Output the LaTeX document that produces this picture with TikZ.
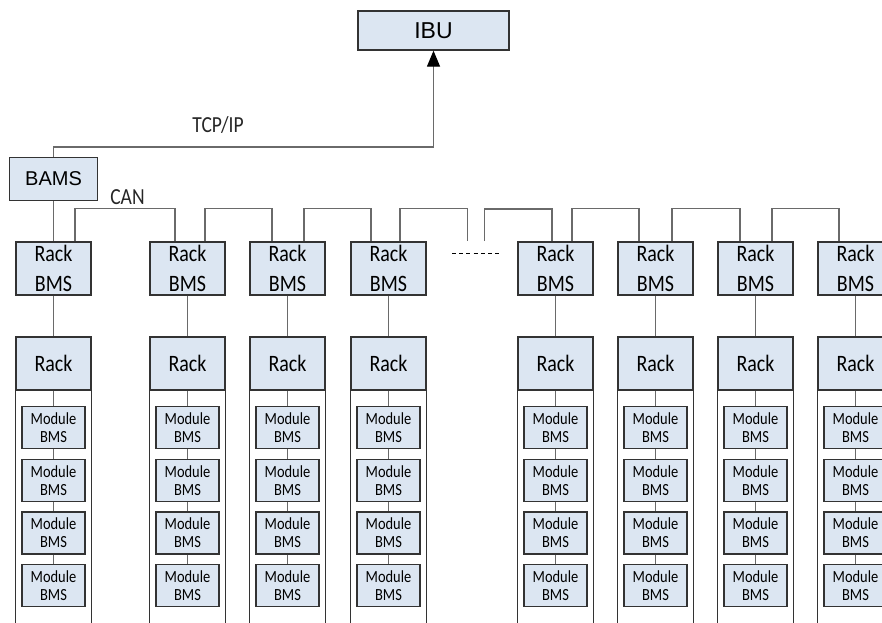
\documentclass[tikz,border=0pt]{standalone}
\usepackage{fontspec}
\setmainfont{Liberation Sans}
\newfontfamily\narrowfont[FakeStretch=0.85]{Carlito}
\usetikzlibrary{arrows.meta}

\definecolor{boxfill}{HTML}{DCE6F2}
\definecolor{boxline}{HTML}{333333}
\definecolor{wire}{HTML}{6A6A6A}

\tikzstyle{hostbox} = [
    rectangle,
    draw=boxline,
    fill=boxfill,
    line width=1.3pt,
    inner sep=0pt,
    font=\fontsize{20}{24}\selectfont
]
\tikzstyle{rackbms} = [
    rectangle,
    minimum width=75pt,
    minimum height=53pt,
    draw=boxline,
    fill=boxfill,
    line width=1.3pt,
    inner sep=0pt,
    align=center,
    font=\narrowfont\fontsize{23.5}{30}\selectfont
]
\tikzstyle{modbms} = [
    rectangle,
    minimum width=63pt,
    minimum height=42pt,
    draw=boxline,
    fill=boxfill,
    line width=1.3pt,
    inner sep=0pt,
    align=center,
    font=\narrowfont\fontsize{17}{18}\selectfont
]
\tikzstyle{rackside} = [draw=boxline, line width=1.3pt]
\tikzstyle{wireline} = [draw=wire, line width=1.3pt]
\tikzstyle{arrow} = [wireline, -{Triangle[width=13pt,length=16pt,color=black]}]
\tikzstyle{busname} = [font=\narrowfont\fontsize{23}{26}\selectfont, text=black!85]

\begin{document}
\begin{tikzpicture}[x=1pt, y=-1pt]
\useasboundingbox (0,0) rectangle (882,622);
\clip (0,0) rectangle (882,622);

\node (ibu) [hostbox, minimum width=151pt, minimum height=39pt,
    font=\fontsize{23}{26}\selectfont] at (433.5,30.5) {IBU};

\node (bams) [hostbox, minimum width=88pt, minimum height=43pt] at (53.5,179) {BAMS};

\node (tcp) [busname] at (218,125) {TCP/IP};
\node (can) [busname] at (127.5,197) {CAN};

\coordinate (tcpbend) at (433.5,147);
\draw [arrow] (bams.north) |- (tcpbend) -- (ibu.south);

% racks with their module BMS
\foreach \i/\x in {1/53.5, 2/187.5, 3/287.5, 4/388.5, 5/555.5, 6/655.5, 7/755.5, 8/855.5} {
    \node (rbms\i) [rackbms] at (\x,268.5) {Rack\\BMS};
    \node (rack\i) [rackbms] at (\x,363.5) {Rack};
    \draw [wireline] (rbms\i) -- (rack\i);
    \draw [rackside] (rack\i.south west) -- ++(0,260);
    \draw [rackside] (rack\i.south east) -- ++(0,260);
    \foreach \j in {1,...,4} {
        \node (mod\i-\j) [modbms] at (\x,374.8+52.7*\j) {Module\\BMS};
    }
    \draw [wireline] (rack\i) -- (mod\i-1);
    \draw [wireline] (mod\i-1) -- (mod\i-2);
    \draw [wireline] (mod\i-2) -- (mod\i-3);
    \draw [wireline] (mod\i-3) -- (mod\i-4);
}

\draw [wireline] (bams) -- (rbms1);

% CAN bus
\foreach \a/\b/\ra/\lb in {1/2/21.5/-12.5, 2/3/17.5/-15.5, 3/4/16.5/-17.5,
                           5/6/16.5/-16.5, 6/7/16.5/-15.5, 7/8/16.5/-16.5} {
    \draw [wireline] ([xshift=\ra pt]rbms\a.north) -- ++(0,-33) -| ([xshift=\lb pt]rbms\b.north);
}

\coordinate (canend) at (467.5,241);
\coordinate (canstart) at (484.5,241);
\draw [wireline] ([xshift=11.5pt]rbms4.north) -- ++(0,-33) -| (canend);
\draw [wireline] (canstart) -- ++(0,-32) -| ([xshift=-3.5pt]rbms5.north);

\coordinate (gapleft) at (452,253);
\coordinate (gapright) at (502,253);
\draw [black, line width=1pt, dash pattern=on 4pt off 3.2pt] (gapleft) -- (gapright);

\end{tikzpicture}
\end{document}
